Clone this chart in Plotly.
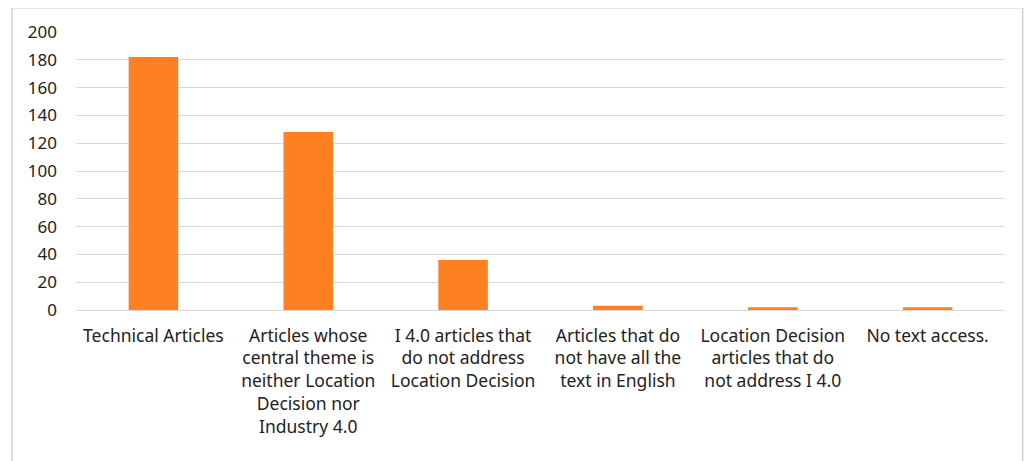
import plotly.graph_objects as go

categories = [
    "Technical Articles",
    "Articles whose<br>central theme is<br>neither Location<br>Decision nor<br>Industry 4.0",
    "I 4.0 articles that<br>do not address<br>Location Decision",
    "Articles that do<br>not have all the<br>text in English",
    "Location Decision<br>articles that do<br>not address I 4.0",
    "No text access.",
]
values = [182, 128, 36, 3, 2, 2]
y_ticks = [0, 20, 40, 60, 80, 100, 120, 140, 160, 180, 200]

fig = go.Figure(go.Bar(
    x=categories, y=values,
    marker=dict(color="#FF7F22", line=dict(width=0)),
    width=0.32,
))

fig.update_layout(
    width=1025, height=453,
    margin=dict(l=68, r=28, t=21, b=151),
    paper_bgcolor="white", plot_bgcolor="white",
    font=dict(family="Noto Sans", size=16, color="#333333"),
    showlegend=False,
    xaxis=dict(showgrid=False, showline=False, ticks="", tickangle=0,
               ticklabelstandoff=13,
               tickfont=dict(size=17.5, color="#222222")),
    yaxis=dict(range=[0, 200], tickvals=y_ticks, showgrid=True,
               gridcolor="#D9D9D9", gridwidth=1.3, zeroline=True,
               zerolinecolor="#D9D9D9", zerolinewidth=1.3,
               ticks="", ticklabelstandoff=18,
               tickfont=dict(size=17, color="#222222")),
    shapes=[dict(type="rect", xref="paper", yref="paper",
                 x0=-0.069, x1=1.019, y0=-0.55, y1=1.087,
                 line=dict(color="#D0D0D0", width=1.5), layer="below")],
)

fig.write_html("out.html")
